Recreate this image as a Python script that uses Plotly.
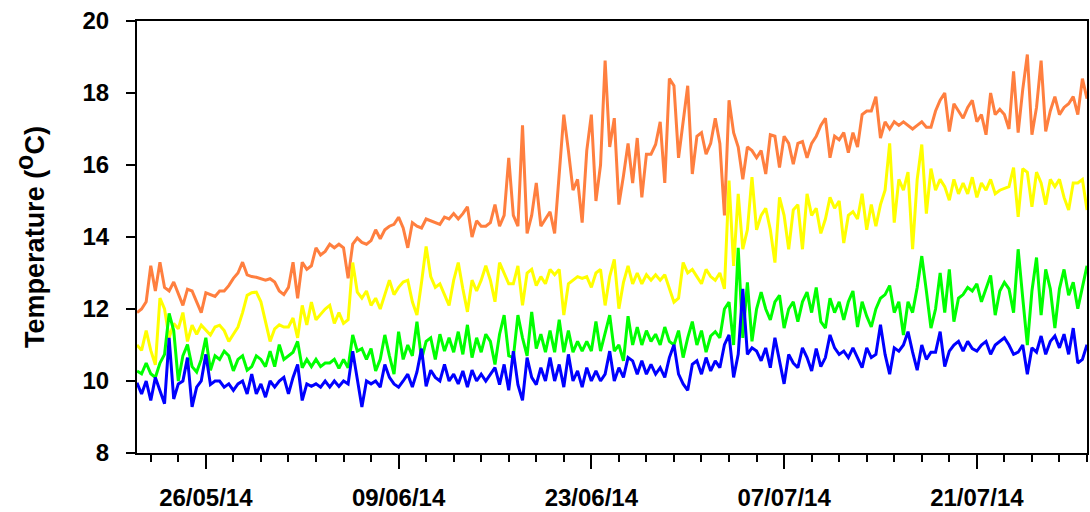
import pandas as pd
import plotly.graph_objects as go

# 8-hourly samples starting 21/05/2014 00:00 (3 per day)
start = "2014-05-21 00:00"

orange = [
    11.9, 12.0, 12.2,
    13.2, 12.5, 13.3,
    12.6, 12.5, 12.75,
    12.4, 12.1, 12.55,
    12.5, 12.2, 11.9,
    12.45, 12.4, 12.35,
    12.5, 12.5, 12.65,
    12.85, 13.0, 13.3,
    12.95, 12.9, 12.88,
    12.85, 12.8, 12.84,
    12.75, 12.5, 12.4,
    12.6, 13.3, 12.3,
    13.3, 13.1, 13.2,
    13.7, 13.5, 13.6,
    13.8, 13.7, 13.8,
    13.7, 12.85, 13.8,
    13.97, 13.85, 13.8,
    13.9, 14.2, 13.95,
    14.2, 14.3, 14.35,
    14.55, 14.25, 13.7,
    14.4, 14.3, 14.25,
    14.5, 14.45, 14.4,
    14.35, 14.55, 14.5,
    14.65, 14.5, 14.65,
    14.84, 14.0, 14.45,
    14.3, 14.3, 14.4,
    14.9, 14.3, 14.6,
    16.2, 14.6, 14.3,
    17.1, 14.1, 14.6,
    15.5, 14.3, 14.5,
    14.7, 14.1, 15.7,
    17.4, 16.4, 15.3,
    15.6, 14.4, 16.4,
    17.4, 15.0, 16.0,
    18.9, 16.5, 17.3,
    14.9, 15.7, 16.6,
    15.5, 16.75, 15.1,
    16.3, 16.3, 16.57,
    17.2, 15.5, 18.4,
    18.2, 16.2, 17.2,
    18.2, 15.75, 16.8,
    16.9, 16.3, 16.6,
    17.3, 16.6, 14.6,
    17.8, 16.9, 16.5,
    15.6, 16.5, 16.4,
    16.2, 16.4, 15.75,
    16.84, 16.8, 15.93,
    16.8, 16.6, 16.02,
    16.6, 16.65, 16.2,
    16.6, 16.8, 17.1,
    17.3, 16.2, 16.8,
    16.7, 16.9, 16.34,
    16.9, 16.5, 17.4,
    17.5, 17.5, 17.9,
    16.75, 17.2, 17.0,
    17.2, 17.1, 17.2,
    17.1, 17.0, 17.1,
    17.2, 17.05, 17.05,
    17.5, 17.8, 18.0,
    16.93, 17.7, 17.5,
    17.3, 17.6, 17.8,
    17.2, 17.4, 16.84,
    18.0, 17.4, 17.55,
    17.4, 17.0, 18.6,
    16.9, 18.1, 19.07,
    16.84, 17.6, 18.9,
    16.93, 17.5, 17.9,
    17.4, 17.6, 17.7,
    17.9, 17.4, 18.4,
    17.84,
]

yellow = [
    11.0, 10.85, 11.4,
    10.85, 10.45, 12.3,
    12.0, 11.2, 11.6,
    11.45, 11.9, 11.1,
    11.55, 11.3, 11.55,
    11.4, 11.28, 11.5,
    11.55, 11.4, 11.1,
    11.3, 11.5, 11.9,
    12.38, 12.45, 12.47,
    12.2, 11.6, 11.1,
    11.45, 11.56, 11.5,
    11.5, 11.75, 11.2,
    12.1, 11.56, 12.19,
    11.7, 11.85, 12.0,
    12.1, 11.6, 11.9,
    11.6, 11.7, 13.29,
    12.47, 12.3, 12.5,
    12.1, 12.3, 12.0,
    12.4, 12.8, 12.4,
    12.6, 12.75, 12.8,
    12.2, 11.83, 12.74,
    13.74, 12.9, 12.6,
    12.7, 12.4, 12.1,
    12.8, 13.29, 12.56,
    11.92, 12.8, 12.5,
    12.8, 13.2, 12.8,
    12.2, 13.29, 13.0,
    12.7, 12.7, 13.2,
    12.1, 13.0, 13.1,
    12.65, 12.9, 12.7,
    13.1, 12.95, 13.1,
    11.83, 12.7, 12.8,
    12.9, 12.85, 12.9,
    12.6, 13.0, 13.1,
    12.1, 12.9, 13.38,
    12.01, 12.74, 13.2,
    12.7, 13.0, 12.7,
    12.95, 12.8, 12.95,
    12.8, 12.95, 12.6,
    12.19, 12.3, 13.29,
    13.0, 13.1, 12.9,
    12.7, 13.1, 12.9,
    12.8, 13.0, 12.56,
    15.57, 13.2, 15.2,
    13.66, 14.2, 15.66,
    14.2, 14.6, 14.8,
    14.2, 13.29, 15.1,
    14.6, 13.66, 14.75,
    14.9, 13.66, 15.2,
    14.6, 14.8, 14.1,
    14.5, 15.1, 14.8,
    15.0, 13.83, 14.6,
    14.7, 14.5, 15.2,
    14.2, 14.9, 14.3,
    14.9, 15.3, 16.6,
    14.4, 15.6, 15.3,
    15.8, 13.66, 15.6,
    16.57, 14.65, 15.9,
    15.3, 15.6, 15.4,
    15.02, 15.6, 15.2,
    15.5, 15.2, 15.66,
    15.1, 15.5, 15.3,
    15.6, 15.2, 15.3,
    15.35, 15.4, 15.93,
    14.56, 15.9, 15.8,
    14.84, 15.8, 15.5,
    14.9, 15.6, 15.4,
    15.6, 15.1, 14.75,
    15.5, 15.5, 15.6,
    14.75,
]

green = [
    10.28, 10.2, 10.5,
    10.2, 10.1, 10.5,
    10.74, 11.88, 11.4,
    10.0, 10.7, 11.01,
    10.4, 10.25, 10.6,
    11.2, 10.3, 10.7,
    10.6, 10.83, 10.7,
    10.28, 10.6, 10.7,
    10.3, 10.4, 10.7,
    10.6, 10.4, 10.83,
    10.4, 11.01, 10.6,
    10.7, 10.8, 11.1,
    10.37, 10.6, 10.4,
    10.6, 10.4, 10.5,
    10.5, 10.6, 10.35,
    10.6, 10.37, 11.28,
    10.83, 10.9, 10.6,
    10.9, 10.28, 10.6,
    11.28, 10.7, 10.19,
    11.37, 10.6, 11.0,
    10.7, 11.65, 10.6,
    11.1, 11.2, 10.6,
    11.3, 10.83, 11.2,
    10.8, 11.37, 10.74,
    11.56, 10.65, 11.2,
    10.8, 11.3, 11.1,
    10.46, 11.3, 11.83,
    10.7, 10.65, 11.83,
    11.2, 10.7, 11.92,
    10.9, 11.3, 10.8,
    11.4, 10.8, 11.7,
    10.8, 11.4, 10.8,
    11.1, 10.83, 11.1,
    10.83, 11.65, 10.83,
    11.3, 11.83, 10.83,
    11.0, 10.56, 11.8,
    11.0, 11.5, 11.0,
    11.4, 11.1, 11.3,
    11.0, 11.5, 11.1,
    11.0, 11.4, 10.65,
    11.2, 11.65, 11.0,
    11.4, 10.8, 11.25,
    11.37, 11.2, 12.0,
    12.19, 11.0, 13.7,
    11.2, 12.74, 11.1,
    12.0, 12.47, 12.0,
    11.7, 12.2, 12.38,
    11.47, 12.0, 12.2,
    11.65, 12.2, 12.47,
    11.9, 12.6, 11.65,
    11.47, 12.3, 11.9,
    12.2, 11.7, 12.2,
    12.5, 11.5, 12.2,
    11.8, 11.5, 12.0,
    12.3, 12.4, 12.65,
    11.9, 12.2, 11.28,
    12.2, 11.9, 12.6,
    13.47, 12.5, 11.47,
    12.0, 13.0, 11.9,
    13.1, 11.65, 12.3,
    12.4, 12.6, 12.5,
    12.7, 12.2, 12.56,
    12.93, 11.83, 12.5,
    12.74, 12.56, 11.9,
    13.66, 12.3, 11.0,
    12.5, 13.43, 11.83,
    13.1, 12.56, 11.47,
    12.56, 13.1, 12.38,
    12.74, 12.01, 12.56,
    13.2,
]

blue = [
    9.95, 9.64, 10.0,
    9.46, 10.1, 9.74,
    9.37, 11.2, 9.5,
    9.92, 10.0, 10.65,
    9.28, 9.83, 10.0,
    10.74, 9.9, 10.0,
    10.0, 9.83, 9.92,
    9.74, 9.92, 10.0,
    9.64, 10.19, 9.64,
    9.92, 9.55, 10.0,
    9.83, 10.0, 10.1,
    9.64, 10.1, 10.46,
    9.46, 9.92, 9.85,
    9.92, 9.83, 10.0,
    9.83, 10.0, 9.85,
    10.0, 9.92, 10.83,
    10.0, 9.28, 10.0,
    9.92, 10.0, 9.83,
    10.46, 10.1, 9.92,
    9.83, 10.0, 10.19,
    9.83, 10.25, 10.9,
    9.85, 10.3, 10.1,
    10.0, 10.46, 10.0,
    10.19, 9.92, 10.28,
    9.83, 10.3, 10.0,
    10.19, 10.0, 10.2,
    10.37, 9.9, 10.46,
    9.74, 10.83, 9.9,
    9.46, 10.65, 10.1,
    9.9, 10.37, 10.0,
    10.65, 10.0, 10.46,
    9.83, 10.74, 10.0,
    10.28, 9.83, 10.37,
    10.0, 10.28, 10.0,
    10.19, 10.83, 10.0,
    10.37, 10.1, 10.65,
    10.56, 10.19, 10.56,
    10.19, 10.46, 10.19,
    10.37, 10.1, 10.65,
    11.01, 10.19, 9.92,
    9.74, 10.46, 10.56,
    10.19, 10.65, 10.28,
    10.56, 10.37, 11.01,
    11.28, 10.1, 10.74,
    12.56, 10.74, 10.92,
    10.83, 10.56, 10.92,
    10.37, 11.2, 10.56,
    9.92, 10.74, 10.5,
    10.37, 10.92, 10.65,
    10.28, 10.9, 10.4,
    10.65, 11.28, 10.92,
    10.74, 10.83, 10.65,
    10.92, 10.65, 10.37,
    10.92, 10.65, 10.74,
    11.56, 10.74, 10.19,
    10.92, 10.83, 11.0,
    11.37, 10.8, 10.3,
    11.0, 10.6, 10.8,
    10.8, 11.37, 10.4,
    10.83, 11.0, 11.1,
    10.83, 11.1, 10.9,
    10.83, 11.0, 11.1,
    10.74, 11.0, 11.1,
    11.2, 11.0, 10.74,
    10.8, 11.0, 10.19,
    10.92, 10.8, 11.25,
    10.74, 11.1, 11.25,
    10.92, 11.3, 10.74,
    11.47, 10.5, 10.6,
    11.01,
]

series = [
    ("Orange", orange, "#FF7F3F"),
    ("Yellow", yellow, "#FFFF00"),
    ("Green", green, "#00FF00"),
    ("Blue", blue, "#0000FF"),
]

fig = go.Figure()
for name, vals, color in series:
    t = pd.date_range(start, periods=len(vals), freq="8h")
    fig.add_trace(go.Scatter(x=t, y=vals, mode="lines", name=name,
                             line=dict(color=color, width=3)))

DAY = 86400000
fig.update_layout(
    width=1090, height=512,
    margin=dict(l=137, r=1, t=21, b=52),
    plot_bgcolor="white", paper_bgcolor="white",
    showlegend=False,
    font=dict(family="Liberation Sans, Arial, sans-serif", color="black"),
)
fig.update_xaxes(
    type="date", range=["2014-05-21", "2014-07-29"],
    showline=True, linecolor="black", linewidth=2, mirror=True,
    showgrid=False, zeroline=False,
    ticks="outside", ticklen=14, tickwidth=2, tickcolor="black",
    tick0="2014-05-26", dtick=14 * DAY, tickformat="%d/%m/%y",
    tickfont=dict(size=24, weight="bold", color="black"),
    ticklabelstandoff=8,
    minor=dict(ticks="outside", ticklen=7, tickwidth=2, tickcolor="black",
               tick0="2014-05-22", dtick=2 * DAY, showgrid=False),
)
fig.update_yaxes(
    range=[8, 20], tick0=8, dtick=2,
    showline=True, linecolor="black", linewidth=2, mirror=True,
    showgrid=False, zeroline=False,
    ticks="outside", ticklen=9, tickwidth=2, tickcolor="black",
    tickfont=dict(size=24, weight="bold", color="black"),
    ticklabelstandoff=12,
    title=dict(text="Temperature (<sup><span style='font-size:25px'>o</span></sup>C)",
               font=dict(size=27, weight="bold", color="black"),
               standoff=30),
)

fig.write_html("out.html")
